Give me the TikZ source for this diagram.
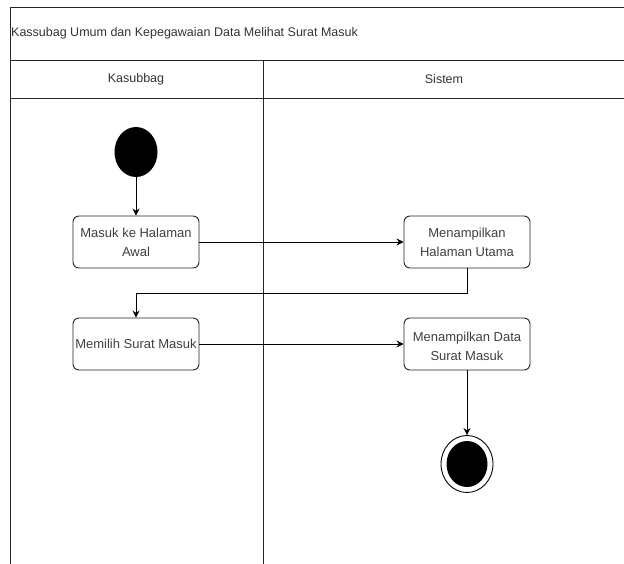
\documentclass[tikz,border=0pt]{standalone}
\usepackage{fontspec}
\setmainfont{Liberation Sans}
\usetikzlibrary{arrows.meta,shapes.geometric}
\begin{document}
\begin{tikzpicture}[x=1pt,y=-1pt,
  frameline/.style={line width=1pt,draw=black!85},
  actbox/.style={draw=black!85,line width=0.9pt,rounded corners=6pt,minimum width=126pt,minimum height=52pt,align=center,text=black!75,font=\fontsize{13}{19}\selectfont,inner sep=1pt},
  flow/.style={draw=black,line width=0.9pt,-{Stealth[length=7pt,width=7pt]}},
  lbl/.style={text=black!80,font=\fontsize{12.5}{14}\selectfont}]
\useasboundingbox (0,0) rectangle (624,563);
\fill[white] (0,0) rectangle (624,563);
% frame
\draw[frameline] (10,570) -- (10,7) -- (630,7);
\draw[frameline] (10,60) -- (630,60);
\draw[frameline] (10,98) -- (630,98);
\draw[frameline] (263,60) -- (263,570);
\node[lbl,anchor=west,inner sep=0pt] (title) at (11,33) {Kassubag Umum dan Kepegawaian Data Melihat Surat Masuk};
\node[lbl] (lane1) at (136,79) {Kasubbag};
\node[lbl] (lane2) at (444,79) {Sistem};
% nodes
\node[ellipse,fill=black,minimum width=43pt,minimum height=50pt,inner sep=0pt] (start) at (136,152) {};
\node[actbox] (a1) at (136,242) {Masuk ke Halaman\\Awal};
\node[actbox] (a2) at (467,242) {Menampilkan\\Halaman Utama};
\node[actbox] (a3) at (136,344) {Memilih Surat Masuk};
\node[actbox] (a4) at (467,344) {\rule{0pt}{15pt}Menampilkan Data\\Surat Masuk};
\node[ellipse,draw=black,line width=0.9pt,minimum width=52pt,minimum height=57pt,inner sep=0pt] (end) at (467,464) {};
\node[ellipse,fill=black,minimum width=41pt,minimum height=46pt,inner sep=0pt] at (end.center) {};
\coordinate (bend) at (467,293);
% connectors
\draw[flow] (start.south) -- (a1.north);
\draw[flow] (a1.east) -- (a2.west);
\draw[flow] (a2.south) -- (bend) -| (a3.north);
\draw[flow] (a3.east) -- (a3.east -| a4.west);
\draw[flow] (a4.south) -- (end.north);
\end{tikzpicture}
\end{document}
